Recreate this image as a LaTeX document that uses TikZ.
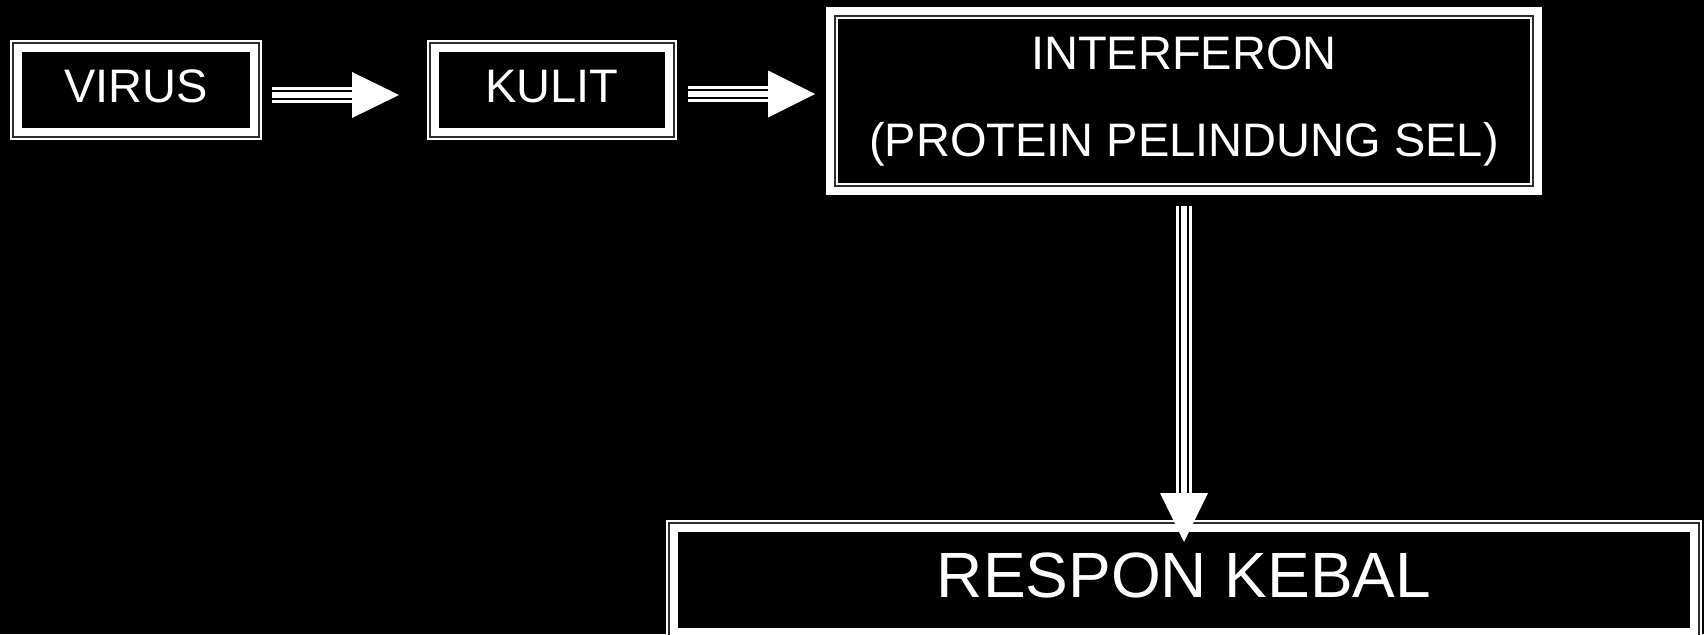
\documentclass[tikz,border=0pt]{standalone}
\usepackage{fontspec}
\setmainfont{Liberation Sans}
\usetikzlibrary{calc}
\definecolor{gapgray}{RGB}{45,45,45}
\tikzset{
  boxthin/.style={rectangle, inner sep=0pt, outer sep=0pt, fill=black, text=white,
    path picture={
      \draw[white,line width=2pt] ([shift={(1pt,-1pt)}]path picture bounding box.north west) rectangle ([shift={(-1pt,1pt)}]path picture bounding box.south east);
      \draw[gapgray,line width=2pt] ([shift={(3pt,-3pt)}]path picture bounding box.north west) rectangle ([shift={(-3pt,3pt)}]path picture bounding box.south east);
      \draw[white,line width=8pt] ([shift={(8pt,-8pt)}]path picture bounding box.north west) rectangle ([shift={(-8pt,8pt)}]path picture bounding box.south east);
    }},
  boxthick/.style={rectangle, inner sep=0pt, outer sep=0pt, fill=black, text=white,
    path picture={
      \draw[white,line width=8pt] ([shift={(4pt,-4pt)}]path picture bounding box.north west) rectangle ([shift={(-4pt,4pt)}]path picture bounding box.south east);
      \draw[gapgray,line width=2pt] ([shift={(9pt,-9pt)}]path picture bounding box.north west) rectangle ([shift={(-9pt,9pt)}]path picture bounding box.south east);
      \draw[white,line width=2pt] ([shift={(11pt,-11pt)}]path picture bounding box.north west) rectangle ([shift={(-11pt,11pt)}]path picture bounding box.south east);
    }},
  smalltext/.style={font=\fontsize{47pt}{87pt}\selectfont},
  bigtext/.style={font=\fontsize{64pt}{70pt}\selectfont}
}
\newcommand\TriArrow[4]{%
  \coordinate (hb) at ($(#2)!#3!(#1)$);
  \draw[white,line width=16pt] (#1) -- (hb);
  \draw[black,line width=1.8pt] ($(#1)!3.8pt!90:(hb)$) -- ($(hb)!3.8pt!-90:(#1)$);
  \draw[black,line width=1.8pt] ($(#1)!3.8pt!-90:(hb)$) -- ($(hb)!3.8pt!90:(#1)$);
  \fill[white] ($(hb)!#4!90:(#2)$) -- (#2) -- ($(hb)!#4!-90:(#2)$) -- cycle;
}
\begin{document}
\begin{tikzpicture}[x=1pt,y=-1pt]
  \useasboundingbox (0,0) rectangle (1704,634);
  \fill[black] (0,0) rectangle (1704,634);
  \clip (0,0) rectangle (1704,634);

  \node[boxthin, smalltext, minimum width=252pt, minimum height=100pt, text height=34pt, text depth=10pt] (virus) at (136,90) {VIRUS};
  \node[boxthin, smalltext, minimum width=250pt, minimum height=100pt, text height=34pt, text depth=10pt] (kulit) at (552,90) {KULIT};
  \node[boxthick, smalltext, align=center, minimum width=716pt, minimum height=188pt] (interferon) at (1184,101) {INTERFERON\\(PROTEIN PELINDUNG SEL)};
  \node[boxthin, bigtext, minimum width=1036pt, minimum height=120pt, text height=46pt, text depth=12pt] (respon) at (1184,580) {RESPON KEBAL};

  \coordinate (a1s) at ([xshift=10pt,yshift=-5pt]virus.east);
  \coordinate (a1t) at ($(kulit.west |- a1s)+(-28pt,0pt)$);
  \TriArrow{a1s}{a1t}{47pt}{23pt}

  \coordinate (a2s) at ([xshift=11pt,yshift=-4pt]kulit.east);
  \coordinate (a2t) at ($(interferon.west |- a2s)+(-11pt,0pt)$);
  \TriArrow{a2s}{a2t}{47pt}{23.5pt}

  \coordinate (a3s) at ([yshift=-11pt]interferon.south);
  \coordinate (a3t) at ([yshift=-22pt]respon.north);
  \TriArrow{a3s}{a3t}{49pt}{24pt}
\end{tikzpicture}
\end{document}
